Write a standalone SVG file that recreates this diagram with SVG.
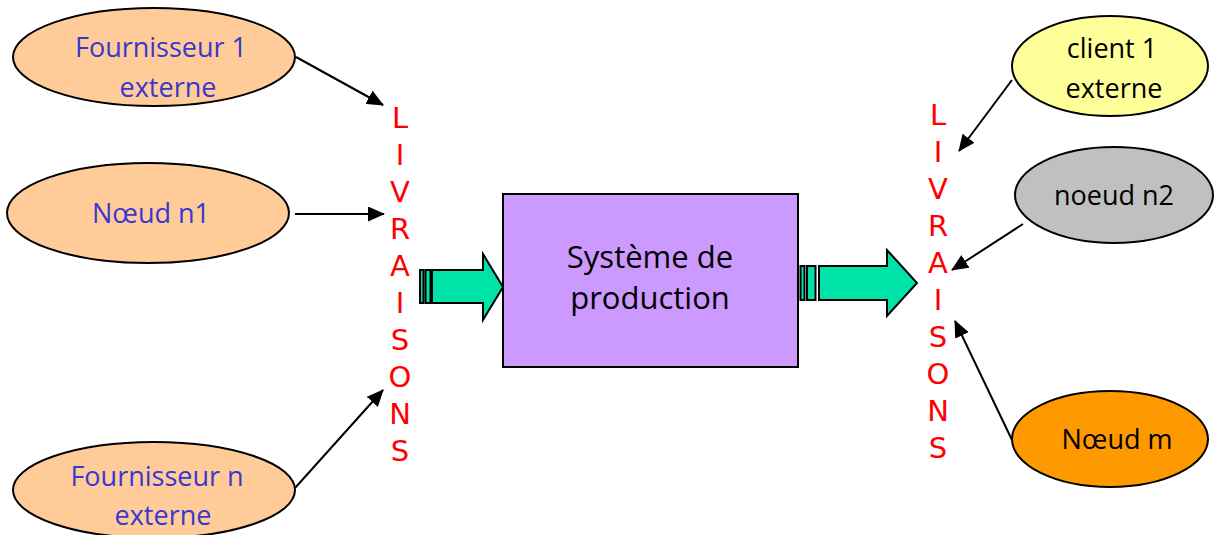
<svg xmlns="http://www.w3.org/2000/svg" width="1215" height="535" viewBox="0 0 1215 535">
<defs>
<marker id="ah" markerWidth="17" markerHeight="15" refX="16" refY="7.5" orient="auto" markerUnits="userSpaceOnUse">
<path d="M0,0 L17,7.5 L0,15 Z" fill="#000"/>
</marker>
<style>
.el{stroke:#000;stroke-width:2}
.t{font-family:"Open Sans","DejaVu Sans",sans-serif;font-size:27px;text-anchor:middle;dominant-baseline:central}
.blue{fill:#3838d0}
.blk{fill:#000}
.liv{font-family:"DejaVu Sans","Liberation Sans",sans-serif;font-size:29px;fill:#ff0000;text-anchor:middle;dominant-baseline:central}
.con{stroke:#000;stroke-width:2;fill:none;marker-end:url(#ah)}
.ba{fill:#00e3a8;stroke:#000;stroke-width:2;stroke-linejoin:miter}
</style>
</defs>
<rect width="1215" height="535" fill="#fff"/>

<g id="fournisseur1">
<ellipse class="el" cx="154" cy="57" rx="141" ry="49" fill="#ffcc99"/>
<text class="t blue" x="161" y="46">Fournisseur 1</text>
<text class="t blue" x="168" y="86">externe</text>
</g>
<g id="noeud-n1">
<ellipse class="el" cx="148" cy="213" rx="141" ry="50" fill="#ffcc99"/>
<text class="t blue" x="151" y="212">Nœud n1</text>
</g>
<g id="fournisseurn">
<ellipse class="el" cx="154" cy="490" rx="141" ry="48" fill="#ffcc99"/>
<text class="t blue" x="157" y="475">Fournisseur n</text>
<text class="t blue" x="163" y="514">externe</text>
</g>

<g id="livraisons-left">
<text class="liv" x="400" y="118">L</text>
<text class="liv" x="400" y="155">I</text>
<text class="liv" x="400" y="192">V</text>
<text class="liv" x="400" y="229">R</text>
<text class="liv" x="400" y="266">A</text>
<text class="liv" x="400" y="303">I</text>
<text class="liv" x="400" y="340">S</text>
<text class="liv" x="400" y="377">O</text>
<text class="liv" x="400" y="414">N</text>
<text class="liv" x="400" y="451">S</text>
</g>

<g id="systeme">
<rect x="503" y="194" width="295" height="173" fill="#cc99ff" stroke="#000" stroke-width="2"/>
<text class="t blk" x="650" y="256" style="font-size:31px">Système de</text>
<text class="t blk" x="650" y="297" style="font-size:31px">production</text>
</g>

<g id="livraisons-right">
<text class="liv" x="938" y="115">L</text>
<text class="liv" x="938" y="152">I</text>
<text class="liv" x="938" y="189">V</text>
<text class="liv" x="938" y="226">R</text>
<text class="liv" x="938" y="263">A</text>
<text class="liv" x="938" y="300">I</text>
<text class="liv" x="938" y="337">S</text>
<text class="liv" x="938" y="374">O</text>
<text class="liv" x="938" y="411">N</text>
<text class="liv" x="938" y="448">S</text>
</g>

<g id="client1">
<ellipse class="el" cx="1110" cy="66" rx="98" ry="50" fill="#ffff99"/>
<text class="t blk" x="1112" y="47">client 1</text>
<text class="t blk" x="1114" y="87">externe</text>
</g>
<g id="noeud-n2">
<ellipse class="el" cx="1114" cy="195" rx="99" ry="48" fill="#c0c0c0"/>
<text class="t blk" x="1114" y="194">noeud n2</text>
</g>
<g id="noeud-m">
<ellipse class="el" cx="1110" cy="439" rx="98" ry="48" fill="#ff9900"/>
<text class="t blk" x="1117" y="438">Nœud m</text>
</g>

<g id="connectors">
<line class="con" x1="296" y1="57" x2="383" y2="105"/>
<line class="con" x1="295" y1="214" x2="384" y2="214"/>
<line class="con" x1="295" y1="488" x2="383" y2="390"/>
<line class="con" x1="1012" y1="80" x2="959" y2="151"/>
<line class="con" x1="1023" y1="224" x2="952" y2="270"/>
<line class="con" x1="1012" y1="440" x2="955" y2="321"/>
<g id="block-arrow-left">
<rect class="ba" x="420" y="270" width="3.5" height="33"/>
<rect class="ba" x="425.5" y="270" width="5" height="33"/>
<path class="ba" d="M432,270 L483,270 L483,254 L503,287 L483,320 L483,303 L432,303 Z"/>
</g>
<g id="block-arrow-right">
<rect class="ba" x="800.5" y="266" width="4" height="34"/>
<rect class="ba" x="807" y="266" width="8.5" height="34"/>
<path class="ba" d="M819,266 L887,266 L887,250 L917,283 L887,316 L887,300 L819,300 Z"/>
</g>
</g>
</svg>
